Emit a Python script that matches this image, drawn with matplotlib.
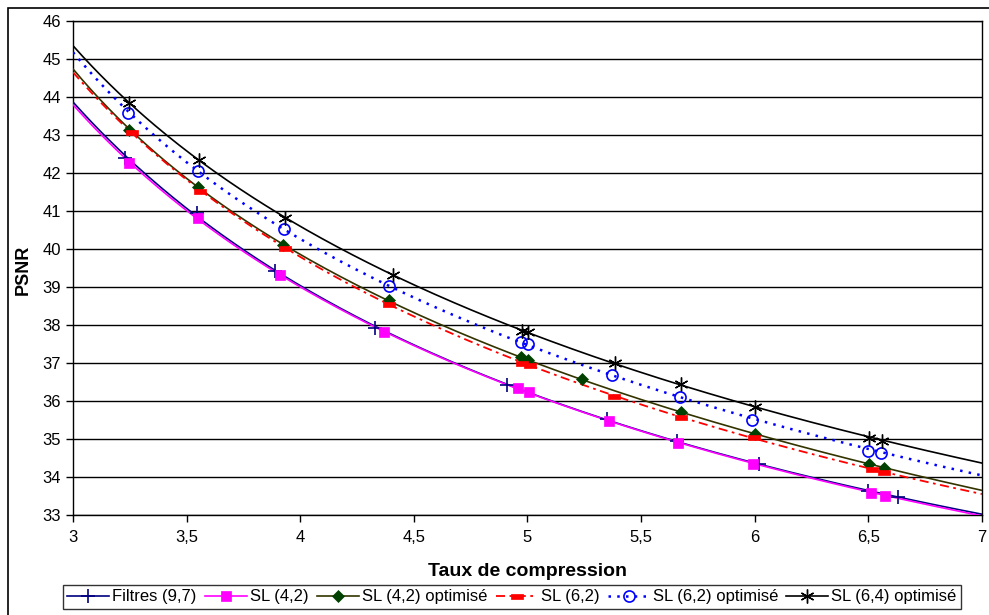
import numpy as np
import matplotlib
matplotlib.use("Agg")
import matplotlib.pyplot as plt
from matplotlib.lines import Line2D
from matplotlib.path import Path
from matplotlib.patches import Rectangle

plt.rcParams['font.family'] = ['Liberation Sans', 'DejaVu Sans']

# Valeurs (taux de compression, PSNR) - marqueurs
filtres_97_x = [3.23, 3.545, 3.89, 4.33, 4.91, 5.35, 5.66, 6.02, 6.50, 6.63]
filtres_97_y = [42.39, 40.94, 39.43, 37.93, 36.42, 35.52, 34.95, 34.34, 33.64, 33.47]

sl42_x = [3.247, 3.549, 3.91, 4.37, 4.957, 5.006, 5.358, 5.664, 5.994, 6.511, 6.573]
sl42_y = [42.26, 40.81, 39.32, 37.82, 36.33, 36.23, 35.48, 34.90, 34.34, 33.59, 33.50]

sl42_opt_x = [3.248, 3.549, 3.926, 4.39, 4.972, 5.001, 5.238, 5.674, 6.00, 6.503, 6.57]
sl42_opt_y = [43.13, 41.64, 40.11, 38.66, 37.15, 37.08, 36.57, 35.70, 35.12, 34.33, 34.25]

sl62_x = [3.258, 3.56, 3.934, 4.39, 4.976, 5.013, 5.38, 5.674, 5.997, 6.518, 6.57]
sl62_y = [43.09, 41.53, 40.02, 38.54, 37.01, 36.95, 36.13, 35.57, 35.04, 34.20, 34.14]

sl62_opt_x = [3.244, 3.549, 3.93, 4.39, 4.97, 5.003, 5.373, 5.671, 5.99, 6.50, 6.555]
sl62_opt_y = [43.57, 42.06, 40.52, 39.03, 37.56, 37.50, 36.68, 36.10, 35.50, 34.69, 34.62]

sl64_opt_x = [3.248, 3.555, 3.934, 4.407, 4.976, 5.001, 5.383, 5.674, 6.00, 6.503, 6.559]
sl64_opt_y = [43.85, 42.34, 40.81, 39.32, 37.85, 37.81, 37.01, 36.44, 35.83, 35.03, 34.95]

# valeurs des courbes de tendance aux bords du graphique (x = 3 et x = 7)
trend_ends_x = [3, 7]
filtres_97_ends = [43.87, 33.02]
sl42_ends = [43.80, 32.98]
sl42_opt_ends = [44.74, 33.65]
sl62_ends = [44.65, 33.55]
sl62_opt_ends = [45.18, 34.05]
sl64_opt_ends = [45.35, 34.37]

labels = ["Filtres (9,7)", "SL (4,2)", "SL (4,2) optimisé", "SL (6,2)",
          "SL (6,2) optimisé", "SL (6,4) optimisé"]

x_ticks = [3, 3.5, 4, 4.5, 5, 5.5, 6, 6.5, 7]
x_tick_labels = ["3", "3,5", "4", "4,5", "5", "5,5", "6", "6,5", "7"]
y_ticks = list(range(33, 47))

# marqueur "tiret" rouge d'Excel
bar_marker = Path([(-1, -0.45), (1, -0.45), (1, 0.45), (-1, 0.45), (-1, -0.45)],
                  [Path.MOVETO, Path.LINETO, Path.LINETO, Path.LINETO, Path.CLOSEPOLY])

styles = [
    dict(color='#000080', ls='-', lw=1.2, marker='+', ms=10, mfc='#000080', mec='#000080', mew=1.2),
    dict(color='#FF00FF', ls='-', lw=1.2, marker='s', ms=7, mfc='#FF00FF', mec='#FF00FF', mew=0.5),
    dict(color='#333300', ls='-', lw=1.2, marker='D', ms=6.5, mfc='#004000', mec='#004000', mew=0.5),
    dict(color='#FF0000', ls=(0, (5, 2.5, 1.5, 2.5)), lw=1.3, marker=bar_marker, ms=8,
         mfc='#FF0000', mec='#FF0000', mew=0.5),
    dict(color='#0000FF', ls=(0, (1, 2.5)), lw=1.8, marker='o', ms=8, mfc='none', mec='#0000FF', mew=1.2),
    dict(color='#000000', ls='-', lw=1.2, marker=(6, 2, 0), ms=10, mfc='#000000', mec='#000000', mew=1.0),
]

series = [(filtres_97_x, filtres_97_y, filtres_97_ends), (sl42_x, sl42_y, sl42_ends),
          (sl42_opt_x, sl42_opt_y, sl42_opt_ends), (sl62_x, sl62_y, sl62_ends),
          (sl62_opt_x, sl62_opt_y, sl62_opt_ends), (sl64_opt_x, sl64_opt_y, sl64_opt_ends)]

fig = plt.figure(figsize=(9.89, 6.15), dpi=100)
ax = fig.add_axes([73 / 989, 100 / 615, 909 / 989, 494 / 615])

# cadre extérieur du graphique
fig.patches.append(Rectangle((8 / 989, -0.05), 1.1, (607 + 31) / 615, transform=fig.transFigure,
                             fill=False, edgecolor='black', lw=1.2))

xs = np.linspace(3, 7, 300)
handles = []
for (sx, sy, ends), st, lab in zip(series, styles, labels):
    # courbe lissée (ajustement en 1/x) passant par les marqueurs et les bords
    lx = np.array([trend_ends_x[0]] + sx + [trend_ends_x[1]])
    ly = np.array([ends[0]] + sy + [ends[1]])
    w = np.ones(len(lx))
    w[0] = w[-1] = 3
    coefs = np.polyfit(1 / lx, ly, 3, w=w)
    ax.plot(xs, np.polyval(coefs, 1 / xs), color=st['color'], ls=st['ls'], lw=st['lw'], zorder=3)
    ax.plot(sx, sy, ls='none', marker=st['marker'], ms=st['ms'], mfc=st['mfc'],
            mec=st['mec'], mew=st['mew'], zorder=4)
    handles.append(Line2D([], [], label=lab, **st))

ax.set_xlim(3, 7)
ax.set_ylim(33, 46)
ax.set_xticks(x_ticks)
ax.set_xticklabels(x_tick_labels)
ax.set_yticks(y_ticks)
ax.yaxis.grid(True, color='black', lw=1.0)
ax.set_axisbelow(True)
ax.tick_params(axis='both', direction='out', length=5, width=1, labelsize=12, colors='black')
ax.tick_params(axis='x', pad=6)
for sp in ax.spines.values():
    sp.set_color('black')
    sp.set_linewidth(1.0)

ax.set_xlabel("Taux de compression", fontsize=14, fontweight='bold')
ax.set_ylabel("PSNR", fontsize=13, fontweight='bold')
ax.xaxis.set_label_coords(0.4995, -0.097)
ax.yaxis.set_label_coords(-0.045, 0.496)

leg = fig.legend(handles=handles, loc='center', bbox_to_anchor=(512 / 989, 1 - 597 / 615),
                 ncol=6, fontsize=12, frameon=True, fancybox=False, edgecolor='black',
                 handlelength=2.5, handletextpad=0.2, columnspacing=0.5, borderpad=0.25)
leg.get_frame().set_linewidth(1.0)

fig.savefig("out.png", dpi=100)
